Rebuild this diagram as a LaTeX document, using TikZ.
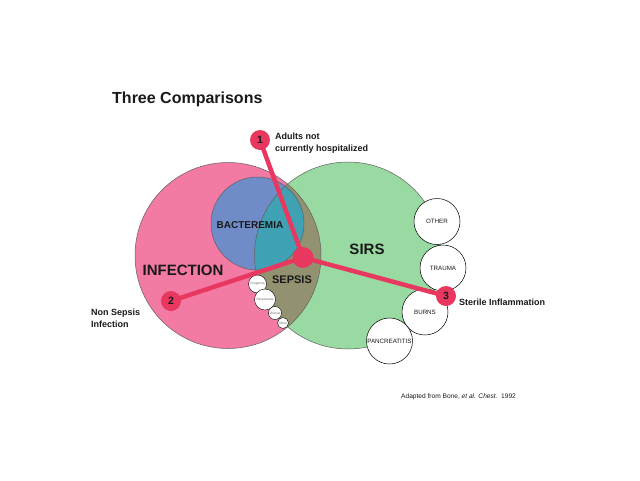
\documentclass[tikz,border=0pt]{standalone}
\usepackage{fontspec}
\setmainfont{Liberation Sans}
\usetikzlibrary{positioning}

\definecolor{infpink}{RGB}{243,122,162}
\definecolor{sirsgreen}{RGB}{152,218,161}
\definecolor{bacblue}{RGB}{112,140,200}
\definecolor{bacteal}{RGB}{62,162,180}
\definecolor{sepolive}{RGB}{146,146,112}
\definecolor{sepred}{RGB}{233,56,96}
\definecolor{edgegray}{RGB}{95,95,95}
\definecolor{inkdark}{RGB}{25,25,25}

\begin{document}
\begin{tikzpicture}[
  x=1pt,y=-1pt,
  text=inkdark,
  venn/.style={draw=edgegray,line width=0.5pt},
  ring/.style={circle,draw=black,line width=0.5pt,fill=white,inner sep=0pt,minimum size=46pt,font=\fontsize{6.2}{7}\selectfont},
  mini/.style={circle,draw=black,line width=0.4pt,fill=white,inner sep=0pt,text=black!60,font=\fontsize{3.2}{3.5}\selectfont},
  num/.style={circle,fill=sepred,inner sep=0pt,minimum size=20pt,font=\bfseries\fontsize{10.5}{12}\selectfont},
  link/.style={sepred,line width=4.5pt},
  note/.style={anchor=west,align=left,inner sep=0pt,font=\bfseries\fontsize{9}{11.5}\selectfont},
  big/.style={font=\bfseries\fontsize{15}{18}\selectfont}
]
\useasboundingbox (0,0) rectangle (640,480);

% the three sets
\fill[infpink] (228,255.5) circle (93pt);
\fill[sirsgreen] (348,255.5) circle (93.5pt);
\begin{scope}
  \clip (228,255.5) circle (93pt);
  \fill[sepolive] (348,255.5) circle (93.5pt);
\end{scope}
\fill[bacblue] (257.5,223.5) circle (46.5pt);
\begin{scope}
  \clip (257.5,223.5) circle (46.5pt);
  \fill[bacteal] (348,255.5) circle (93.5pt);
\end{scope}
\draw[venn] (228,255.5) circle (93pt);
\draw[venn] (348,255.5) circle (93.5pt);
\draw[venn] (257.5,223.5) circle (46.5pt);

\node[big] (inf) at (183,270) {INFECTION};
\node[big] (sirs) at (367,249) {SIRS};
\node[font=\bfseries\fontsize{10}{12}\selectfont] (bac) at (250,225) {BACTEREMIA};
\node[font=\bfseries\fontsize{11}{13}\selectfont] (sep) at (292,280) {SEPSIS};

% other infections
\node[mini,minimum size=18pt] (fung) at (257.5,284) {Fungemia};
\node[mini,minimum size=21pt] (para) at (265,299.5) {Parasitemia};
\node[mini,minimum size=13pt] (vir) at (275,313) {Viremia};
\node[mini,minimum size=11pt] (oth) at (283,323) {Other};

% other causes of SIRS
\node[ring] (other) at (437,221.5) {OTHER};
\node[ring] (trauma) at (443,268) {TRAUMA};
\node[ring] (burns) at (425,312) {BURNS};
\node[ring] (panc) at (389.5,341) {PANCREATITIS};

% comparisons
\coordinate (hubpt) at (303,257.5);
\coordinate (c1) at (260,140);
\coordinate (c2) at (171,301);
\coordinate (c3) at (446,296);
\draw[link] (hubpt) -- (c1);
\draw[link] (hubpt) -- (c2);
\draw[link] (hubpt) -- (c3);
\node[circle,fill=sepred,minimum size=21pt,inner sep=0pt] (hub) at (hubpt) {};
\node[num] (n1) at (c1) {1};
\node[num] (n2) at (c2) {2};
\node[num] (n3) at (c3) {3};

\node[note] (adults) at (275,143) {Adults not\\currently hospitalized};
\node[note] (nonsep) at (91,318.5) {Non Sepsis\\Infection};
\node[note] (sterile) at (459,302.5) {Sterile Inflammation};

\node[anchor=west,inner sep=0pt,font=\bfseries\fontsize{16}{19}\selectfont] (title) at (112,99) {Three Comparisons};
\node[anchor=west,inner sep=0pt,font=\fontsize{6.6}{8}\selectfont] (src) at (401,397) {Adapted from Bone, \textit{et al. Chest.}\ \ 1992};
\end{tikzpicture}
\end{document}
